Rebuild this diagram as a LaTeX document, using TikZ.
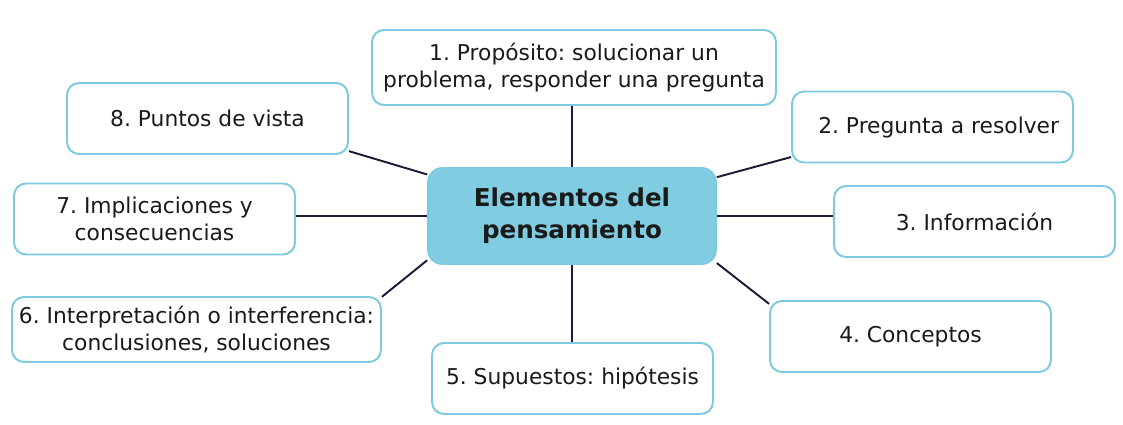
\documentclass[tikz,border=0pt]{standalone}
\usepackage{fontspec}
\setmainfont{DejaVu Sans}
\usetikzlibrary{calc}
\definecolor{cCentro}{HTML}{80CDE2}
\definecolor{cBorde}{HTML}{7CC9E0}
\definecolor{cLinea}{HTML}{1C1A38}
\definecolor{cTexto}{HTML}{1A1A1A}
\frenchspacing

\begin{document}
\begin{tikzpicture}[
    x=0.02cm, y=-0.02cm, font=\fontsize{12.4}{15.4}\selectfont,
    centro/.style={draw=cBorde, fill=cCentro, line width=1pt, rounded corners=0.28cm,
                   minimum width=5.76cm, minimum height=1.92cm, align=center,
                   text=cTexto, font=\fontsize{14}{18}\selectfont\bfseries},
    elem/.style={draw=cBorde, fill=white, line width=1.1pt, rounded corners=0.24cm,
                 minimum width=5.62cm, minimum height=1.42cm, align=center,
                 text=cTexto, inner sep=2pt},
    enlace/.style={draw=cLinea, line width=1.1pt},
]
\useasboundingbox (0,0) rectangle (1123,425);

% ===================== Nodo central =====================
\node[centro] (c) at (572,216) {Elementos del\\pensamiento};

% ===================== Elementos =====================
\node[elem, minimum width=8.08cm, minimum height=1.5cm] (b1) at (574,67.5)
      {1. Propósito: solucionar un\\problema, responder una pregunta};
\node[elem] (b2) at (932.5,127) {\hspace*{7pt}2. Pregunta a resolver};
\node[elem] (b3) at (974.5,221.5) {3. Información};
\node[elem] (b4) at (910.5,336.5) {4. Conceptos};
\node[elem] (b5) at (572.5,378.5) {5. Supuestos: hipótesis};
\node[elem, minimum width=7.38cm, minimum height=1.3cm] (b6) at (196.5,329.5)
      {6. Interpretación o interferencia:\\conclusiones, soluciones};
\node[elem] (b7) at (154.5,219) {7. Implicaciones y\\consecuencias};
\node[elem] (b8) at (207.5,118.5) {8. Puntos de vista};

% ===================== Enlaces =====================
\draw[enlace] (c.north) -- (c.north |- b1.south);
\draw[enlace] (c.15) -- (b2.192);
\draw[enlace] (c.east) -- (c.east -| b3.west);
\draw[enlace] (c.-18) -- (b4.167);
\draw[enlace] (c.south) -- (c.south |- b5.north);
\draw[enlace] (c.197) -- (b6.10);
\draw[enlace] (c.west) -- (c.west -| b7.east);
\draw[enlace] (c.164) -- (b8.-13);

\end{tikzpicture}
\end{document}
